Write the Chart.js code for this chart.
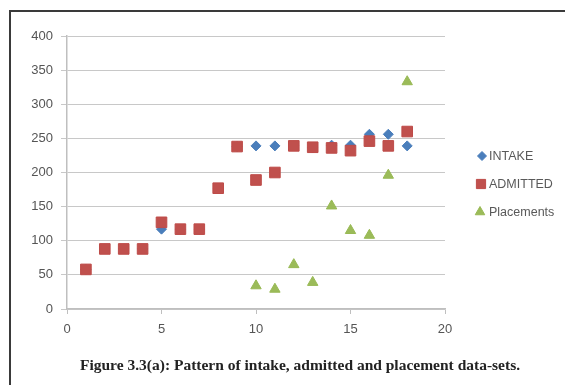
<!DOCTYPE html>
<html>
<head>
<meta charset="utf-8">
<script src="https://cdn.jsdelivr.net/npm/chart.js@4.4.1/dist/chart.umd.min.js"></script>
<style>
  html, body { margin: 0; padding: 0; background: #fff; }
  #wrap { position: relative; width: 565px; height: 385px; overflow: hidden; }
  #frame { position: absolute; left: 9px; top: 10px; right: -5px; bottom: -5px;
           border-top: 2px solid #3a3a3a; border-left: 2px solid #3a3a3a; }
  canvas { position: absolute; left: 0; top: 0; }
  #caption { position: absolute; left: 0; width: 600px; top: 356px; text-align: center;
             font-family: "Liberation Serif", "DejaVu Serif", serif; font-weight: bold;
             font-size: 15.5px; color: #222; white-space: nowrap; }
</style>
</head>
<body>
<div id="wrap">
  <div id="frame"></div>
  <canvas id="c" width="565" height="385"></canvas>
  <div id="caption">Figure 3.3(a): Pattern of intake, admitted and placement data-sets.</div>
</div>
<script>
const seriesNames = ["INTAKE", "ADMITTED", "Placements"];
const intakeX = [1, 2, 3, 4, 5, 6, 7, 8, 9, 10, 11, 12, 13, 14, 15, 16, 17, 18];
const intakeY = [58, 88, 88, 88, 117, 117, 117, 176, 238, 239, 239, 239, 236, 240, 240, 256, 256, 239];
const admittedX = [1, 2, 3, 4, 5, 6, 7, 8, 9, 10, 11, 12, 13, 14, 15, 16, 17, 18];
const admittedY = [58, 88, 88, 88, 127, 117, 117, 177, 238, 189, 200, 239, 237, 236, 232, 246, 239, 260];
const placementsX = [10, 11, 12, 13, 14, 15, 16, 17, 18];
const placementsY = [34, 29, 65, 39, 151, 115, 108, 196, 333];
const xTicks = [0, 5, 10, 15, 20];
const yTicks = [0, 50, 100, 150, 200, 250, 300, 350, 400];

const toPts = (xs, ys) => xs.map((x, i) => ({ x: x, y: ys[i] }));

const legendPlugin = {
  id: 'customLegend',
  afterDraw(chart) {
    const ctx = chart.ctx;
    const pos = [[482, 156], [481, 184], [480, 212]];
    ctx.save();
    chart.data.datasets.forEach((ds, i) => {
      const [x, y] = pos[i];
      ctx.fillStyle = ds.backgroundColor;
      ctx.strokeStyle = ds.borderColor;
      ctx.lineWidth = 1;
      Chart.helpers.drawPoint(ctx, { pointStyle: ds.pointStyle, radius: ds.legendRadius, rotation: 0, borderWidth: 1 }, x, y);
      ctx.fillStyle = '#595959';
      ctx.font = '12.5px "Liberation Sans", Arial, sans-serif';
      ctx.textBaseline = 'middle';
      ctx.textAlign = 'left';
      ctx.fillText(ds.label, 489, y + 0.5);
    });
    ctx.restore();
  }
};

const tickFont = { family: '"Liberation Sans", Arial, sans-serif', size: 13 };

new Chart(document.getElementById('c'), {
  type: 'scatter',
  data: {
    datasets: [
      { label: seriesNames[0], data: toPts(intakeX, intakeY), pointStyle: 'rectRot',
        pointRadius: 5, legendRadius: 4.5, backgroundColor: '#4a7ebb', borderColor: '#4a7ebb', borderWidth: 1, order: 2 },
      { label: seriesNames[1], data: toPts(admittedX, admittedY), pointStyle: 'rect',
        pointRadius: 7.5, legendRadius: 6.5, backgroundColor: '#c0504d', borderColor: '#be4b48', borderWidth: 1, order: 1 },
      { label: seriesNames[2], data: toPts(placementsX, placementsY), pointStyle: 'triangle',
        pointRadius: 6, legendRadius: 5.5, backgroundColor: '#9bbb59', borderColor: '#98b954', borderWidth: 1, order: 0 }
    ]
  },
  options: {
    responsive: false,
    animation: false,
    devicePixelRatio: 1,
    layout: { padding: { left: 17, right: 120, top: 36, bottom: 46 } },
    plugins: { legend: { display: false }, tooltip: { enabled: false } },
    elements: { point: { hoverRadius: 0 } },
    scales: {
      x: {
        type: 'linear', min: 0, max: 20,
        afterBuildTicks: (s) => { s.ticks = xTicks.map(v => ({ value: v })); },
        afterFit: (s) => { s.height = 30; },
        ticks: { color: '#555555', font: tickFont, padding: 8, maxRotation: 0 },
        grid: { drawOnChartArea: false, drawTicks: true, tickLength: 5, color: '#bfbfbf' },
        border: { color: '#bfbfbf', width: 1.5 }
      },
      y: {
        type: 'linear', min: 0, max: 400,
        afterBuildTicks: (s) => { s.ticks = yTicks.map(v => ({ value: v })); },
        afterFit: (s) => { s.width = 50; },
        ticks: { color: '#555555', font: tickFont, padding: 8 },
        grid: { color: '#c8c8c8', lineWidth: 1, tickLength: 6 },
        border: { color: '#bfbfbf', width: 1.5 }
      }
    }
  },
  plugins: [legendPlugin]
});
</script>
</body>
</html>
